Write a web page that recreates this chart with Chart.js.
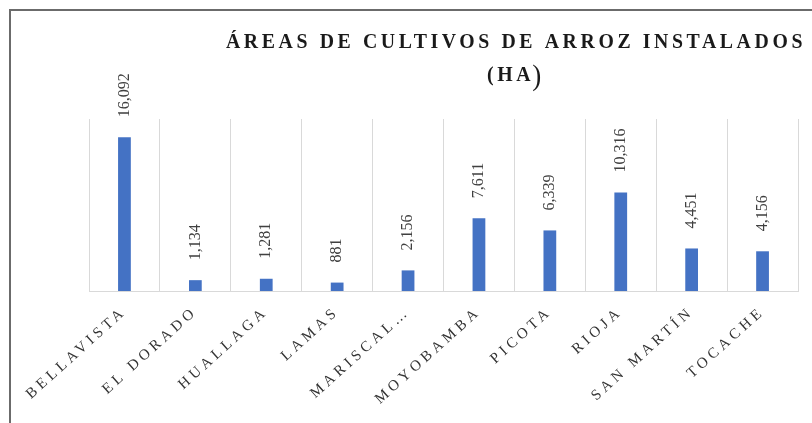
<!DOCTYPE html>
<html>
<head>
<meta charset="utf-8">
<script src="https://cdn.jsdelivr.net/npm/chart.js@4"></script>
<style>
    html, body { margin: 0; padding: 0; background: #fff; overflow: hidden; }
    .frame {
        position: absolute; left: 9px; top: 9px;
        width: 900px; height: 500px;
        border: 2px solid #6b6b6b;
    }
    .wrap { position: absolute; left: 0; top: 0; width: 812px; height: 423px; }
</style>
</head>
<body>
<div class="frame"></div>
<div class="wrap"><canvas id="arrozChart"></canvas></div>
<script>
const provincias = ['BELLAVISTA', 'EL DORADO', 'HUALLAGA', 'LAMAS', 'MARISCAL…',
    'MOYOBAMBA', 'PICOTA', 'RIOJA', 'SAN MARTÍN', 'TOCACHE'];
const hectareas = [16092, 1134, 1281, 881, 2156, 7611, 6339, 10316, 4451, 4156];
const tituloLineas = ['ÁREAS DE CULTIVOS DE ARROZ INSTALADOS', '(HA'];

const serif = "'Liberation Serif', 'Times New Roman', serif";

// letter spacing for the category labels (Chart.js has no option for it)
const spacingPlugin = {
    id: 'spacing',
    beforeDraw(chart) { chart.ctx.letterSpacing = '4px'; },
    beforeDatasetsDraw(chart) { chart.ctx.letterSpacing = '0px'; }
};

// rotated value labels above each bar
const valueLabels = {
    id: 'valueLabels',
    afterDatasetsDraw(chart) {
        const ctx = chart.ctx;
        const meta = chart.getDatasetMeta(0);
        ctx.save();
        ctx.font = '16px ' + serif;
        ctx.fillStyle = '#404040';
        ctx.textAlign = 'left';
        ctx.textBaseline = 'middle';
        meta.data.forEach((bar, i) => {
            ctx.save();
            ctx.translate(bar.x, bar.y - 20);
            ctx.rotate(-Math.PI / 2);
            ctx.fillText(hectareas[i].toLocaleString('en-US'), 0, 0);
            ctx.restore();
        });
        ctx.restore();
    }
};

// title sits off-centre in the original, so it is drawn by hand
// (narrowed a bit to look like the condensed face of the original)
const titlePlugin = {
    id: 'bigTitle',
    afterDraw(chart) {
        const ctx = chart.ctx;
        const cx = 516;
        const sx = 0.9;
        ctx.save();
        ctx.fillStyle = '#1a1a1a';
        ctx.textBaseline = 'alphabetic';
        ctx.translate(cx, 0);
        ctx.scale(sx, 1);
        ctx.textAlign = 'center';
        ctx.letterSpacing = '4px';
        ctx.font = 'bold 22px ' + serif;
        ctx.fillText(tituloLineas[0], 0, 48);
        ctx.textAlign = 'left';
        const w = ctx.measureText(tituloLineas[1]).width;
        const x0 = -(w + 12) / 2;
        ctx.fillText(tituloLineas[1], x0, 81);
        ctx.letterSpacing = '0px';
        ctx.font = '30px ' + serif;
        ctx.fillText(')', x0 + w - 2, 85);
        ctx.restore();
    }
};

const ctx = document.getElementById('arrozChart').getContext('2d');
new Chart(ctx, {
    type: 'bar',
    data: {
        labels: provincias,
        datasets: [{
            label: 'Hectáreas',
            data: hectareas,
            backgroundColor: '#4472C4',
            barPercentage: 0.6,
            categoryPercentage: 0.3
        }]
    },
    options: {
        responsive: true,
        maintainAspectRatio: false,
        animation: false,
        layout: { padding: { left: 89, right: 14, top: 119, bottom: 0 } },
        plugins: {
            legend: { display: false },
            title: { display: false },
            tooltip: { enabled: false }
        },
        scales: {
            y: { display: false, min: 0, max: 18000 },
            x: {
                afterFit(scale) { scale.height = 132; },
                grid: { color: '#d9d9d9', lineWidth: 1, drawTicks: false, offset: true },
                border: { color: '#d9d9d9', width: 1 },
                ticks: {
                    color: '#333333',
                    font: { family: serif, size: 15 },
                    minRotation: 42,
                    maxRotation: 42,
                    autoSkip: false,
                    padding: 12
                }
            }
        }
    },
    plugins: [spacingPlugin, valueLabels, titlePlugin]
});
</script>
</body>
</html>
